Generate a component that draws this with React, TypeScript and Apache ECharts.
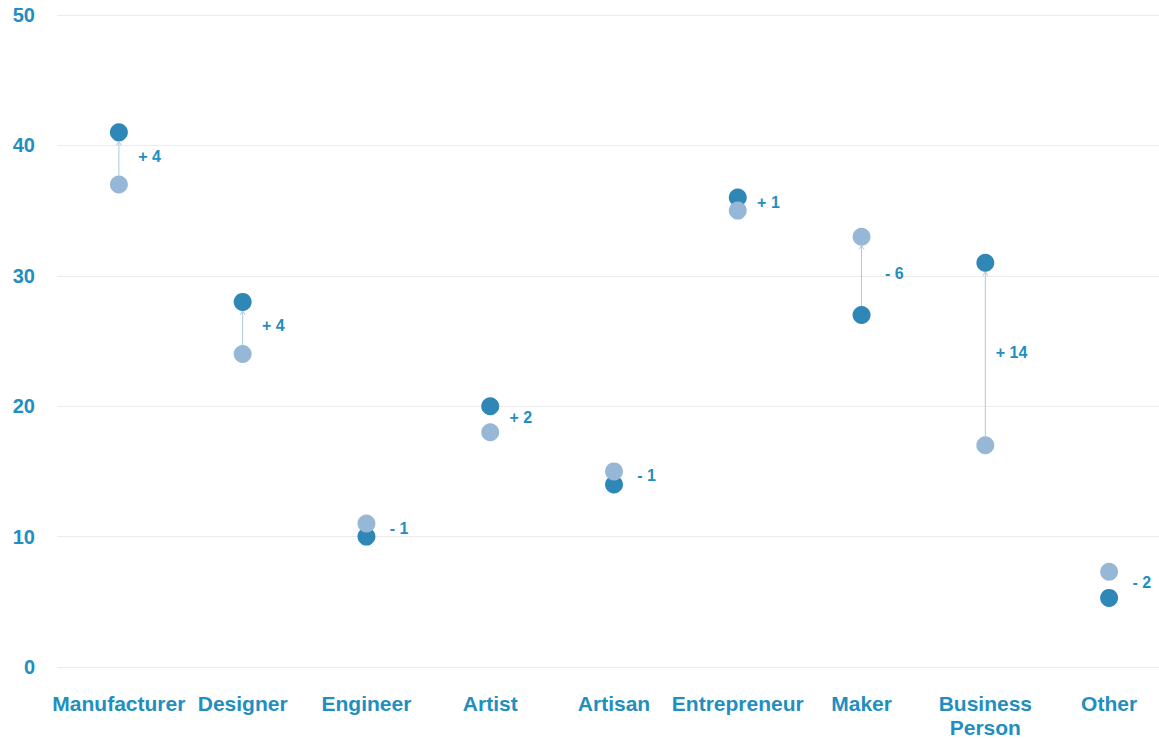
import React, { useEffect, useRef } from "react";
import * as echarts from "echarts";

const categories = ["Manufacturer", "Designer", "Engineer", "Artist", "Artisan", "Entrepreneur", "Maker", "Business\nPerson", "Other"];
const beforeValues = [37, 24, 11, 18, 15, 35, 33, 17, 7.3];
const afterValues = [41, 28, 10, 20, 14, 36, 27, 31, 5.3];
const diffLabels = ["+ 4", "+ 4", "- 1", "+ 2", "- 1", "+ 1", "- 6", "+ 14", "- 2"];
const yTicks = [0, 10, 20, 30, 40, 50];

const TEXT = "#1f8ec0";
const DARK = "#2f87b7";
const LIGHT = "#96b8d6";
const ARROW = "#a9cbe0";
const FONT = "'Liberation Sans', Arial, Helvetica, sans-serif";

export default function App() {
  const ref = useRef<HTMLDivElement>(null);
  useEffect(() => {
    const chart = echarts.init(ref.current!, null, { renderer: "svg" });
    const R = 9;
    const connData = categories.map((_, i) => [i, beforeValues[i], afterValues[i]]);
    chart.setOption({
      animation: false,
      grid: { left: 57, right: 0, top: 15, bottom: 70, containLabel: false },
      xAxis: {
        type: "category",
        data: categories,
        axisLine: { show: false },
        axisTick: { show: false },
        axisLabel: {
          color: TEXT,
          fontFamily: FONT,
          fontWeight: "bold",
          fontSize: 21,
          lineHeight: 24,
          margin: 24,
          interval: 0,
        },
      },
      yAxis: {
        type: "value",
        min: yTicks[0],
        max: yTicks[yTicks.length - 1],
        interval: 10,
        axisLine: { show: false },
        axisTick: { show: false },
        splitLine: { lineStyle: { color: "#ebebeb", width: 1 } },
        axisLabel: {
          color: TEXT,
          fontFamily: FONT,
          fontWeight: "bold",
          fontSize: 20,
          margin: 22,
        },
      },
      series: [
        {
          type: "custom",
          z: 1,
          data: connData,
          renderItem: (params: any, api: any) => {
            const i = api.value(0);
            const b = api.value(1);
            const a = api.value(2);
            const pb = api.coord([i, b]);
            const pa = api.coord([i, a]);
            const x = pb[0];
            const midY = (pb[1] + pa[1]) / 2;
            const children: any[] = [];
            const diff = Math.round(a - b);
            if (Math.abs(diff) >= 4) {
              const topY = Math.min(pb[1], pa[1]) + R;
              const botY = Math.max(pb[1], pa[1]) - R;
              children.push({
                type: "line",
                shape: { x1: x, y1: botY, x2: x, y2: topY },
                style: { stroke: ARROW, lineWidth: 1 },
              });
              children.push({
                type: "polyline",
                shape: { points: [[x - 2.5, topY + 4], [x, topY], [x + 2.5, topY + 4]] },
                style: { stroke: ARROW, lineWidth: 1, fill: null },
              });
            }
            children.push({
              type: "text",
              x: x + 42,
              y: midY - 2,
              style: {
                text: diffLabels[params.dataIndex],
                fill: TEXT,
                font: `bold 16px ${FONT}`,
                textAlign: "right",
                textVerticalAlign: "middle",
              },
            });
            return { type: "group", children };
          },
        },
        {
          type: "scatter",
          name: "after",
          z: 2,
          data: afterValues,
          symbolSize: 18,
          itemStyle: { color: DARK, opacity: 1 },
        },
        {
          type: "scatter",
          name: "before",
          z: 3,
          data: beforeValues,
          symbolSize: 18,
          itemStyle: { color: LIGHT, opacity: 1 },
        },
      ],
    });
    return () => chart.dispose();
  }, []);
  return (
    <div
      style={{ position: "absolute", left: 0, top: 0, width: 1159, height: 739, overflow: "hidden", background: "#fff" }}
    >
      <div ref={ref} style={{ width: 1171, height: 739 }} />
    </div>
  );
}
